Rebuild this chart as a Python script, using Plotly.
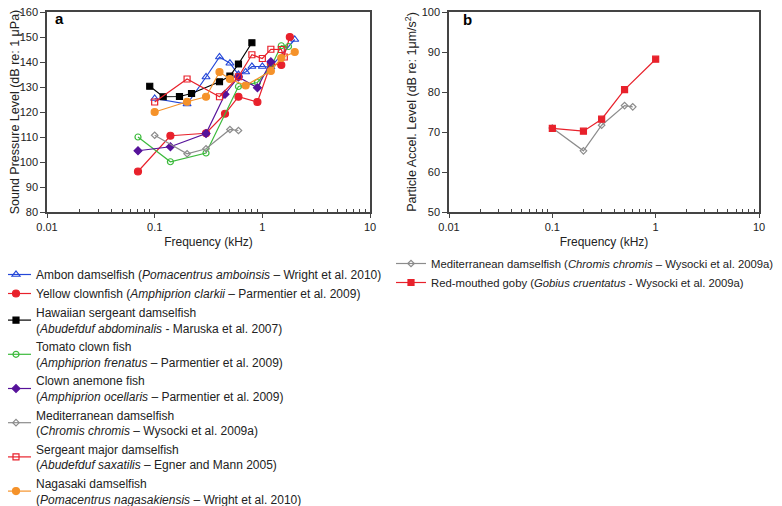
import plotly.graph_objects as go

# ---- panel a: sound pressure audiograms (kHz, dB re 1 uPa) ----
ambon_f = [0.1, 0.2, 0.3, 0.4, 0.5, 0.6, 0.7, 0.8, 1.0, 1.2, 2.0]
ambon_db = [125.4, 123.2, 134, 142, 139.5, 135, 136, 138.2, 138.2, 138, 149]

yellow_f = [0.07, 0.14, 0.3, 0.45, 0.6, 0.9, 1.2, 1.5, 1.8]
yellow_db = [96.2, 110.5, 111.5, 119.3, 126.1, 124, 139.3, 138.8, 150]

hawaii_f = [0.09, 0.12, 0.17, 0.22, 0.4, 0.5, 0.6, 0.8]
hawaii_db = [130.3, 126.1, 126.2, 127.4, 132.1, 134.4, 139.2, 147.7]

tomato_f = [0.07, 0.14, 0.3, 0.6, 0.9, 1.2, 1.5, 1.75]
tomato_db = [110, 100.1, 103.6, 130.2, 131.8, 138, 146.5, 146.2]

anemone_f = [0.07, 0.14, 0.3, 0.45, 0.6, 0.9, 1.2]
anemone_db = [104.5, 106.1, 111.4, 127.1, 134, 129.7, 140.1]

medit_a_f = [0.1, 0.2, 0.3, 0.5, 0.6]
medit_a_db = [110.7, 103.3, 105.3, 113, 112.6]

sergeant_f = [0.1, 0.2, 0.4, 0.6, 0.8, 1.0, 1.2, 1.5, 1.6]
sergeant_db = [124, 133.2, 126.1, 134.1, 142.9, 141.4, 145.1, 145, 142]

nagasaki_f = [0.1, 0.2, 0.3, 0.4, 0.5, 0.7, 1.2, 1.5, 2.0]
nagasaki_db = [120, 124.1, 126.1, 136, 133.2, 130.6, 136.4, 141.6, 144]

# ---- panel b: particle acceleration audiograms (kHz, dB re 1 um/s^2) ----
medit_b_f = [0.1, 0.2, 0.3, 0.5, 0.6]
medit_b_db = [71, 65.3, 71.7, 76.6, 76.3]

goby_f = [0.1, 0.2, 0.3, 0.5, 1.0]
goby_db = [70.9, 70.2, 73.2, 80.6, 88.2]

x_ticks = [0.01, 0.1, 1, 10]
x_tick_labels = ["0.01", "0.1", "1", "10"]

BLUE = "#2447d8"
RED = "#e8212b"
GREEN = "#3cba3c"
PURPLE = "#56129a"
GRAY = "#8c8c8c"
ORANGE = "#f5922a"

W, H = 782, 506
# the page body adds an 8px offset, so work in screen pixels minus that
PAGE_OFF = 8
ML, MR, MT, MB = 39, 31, 4, 302
PW, PH = W - ML - MR, H - MT - MB

FONT = "Liberation Sans, Arial, sans-serif"


def px_to_paper_x(p):
    # p: screen pixel in the target picture
    return (p - PAGE_OFF - ML) / PW


def px_to_paper_y(p):
    return 1 - (p - PAGE_OFF - MT) / PH


fig = go.Figure()


def add_series(f, db, name, color, symbol, size=6, axis="a", legend="legend"):
    fig.add_trace(
        go.Scatter(
            x=f,
            y=db,
            name=name,
            mode="lines+markers",
            line=dict(color=color, width=1.2),
            marker=dict(symbol=symbol, size=size, color=color,
                        line=dict(color=color, width=1.2)),
            xaxis="x" if axis == "a" else "x2",
            yaxis="y" if axis == "a" else "y2",
            legend=legend,
        )
    )


add_series(ambon_f, ambon_db,
           "Ambon damselfish (<i>Pomacentrus amboinsis</i> – Wright et al. 2010)",
           BLUE, "triangle-up-open", 7)
add_series(yellow_f, yellow_db,
           "Yellow clownfish (<i>Amphiprion clarkii</i> – Parmentier et al. 2009)",
           RED, "circle", 7)
add_series(hawaii_f, hawaii_db,
           "Hawaiian sergeant damselfish<br>(<i>Abudefduf abdominalis</i> - Maruska et al. 2007)",
           "black", "square", 6)
add_series(tomato_f, tomato_db,
           "Tomato clown fish<br>(<i>Amphiprion frenatus</i> – Parmentier et al. 2009)",
           GREEN, "circle-open", 6)
add_series(anemone_f, anemone_db,
           "Clown anemone fish<br>(<i>Amphiprion ocellaris</i> – Parmentier et al. 2009)",
           PURPLE, "diamond", 6)
add_series(medit_a_f, medit_a_db,
           "Mediterranean damselfish<br>(<i>Chromis chromis</i> – Wysocki et al. 2009a)",
           GRAY, "diamond-open", 5)
add_series(sergeant_f, sergeant_db,
           "Sergeant major damselfish<br>(<i>Abudefduf saxatilis</i> – Egner and Mann 2005)",
           RED, "square-open", 6)
add_series(nagasaki_f, nagasaki_db,
           "Nagasaki damselfish<br>(<i>Pomacentrus nagasakiensis</i> – Wright et al. 2010)",
           ORANGE, "circle", 7)

add_series(medit_b_f, medit_b_db,
           "Mediterranean damselfish (<i>Chromis chromis</i> – Wysocki et al. 2009a)",
           GRAY, "diamond-open", 5, axis="b", legend="legend2")
add_series(goby_f, goby_db,
           "Red-mouthed goby (<i>Gobius cruentatus</i> - Wysocki et al. 2009a)",
           RED, "square", 6, axis="b", legend="legend2")

tick_font = dict(family=FONT, size=11, color="#222")
xtitle_font = dict(family=FONT, size=12, color="#222")
ytitle_font = dict(family=FONT, size=12.5, color="#222")

xaxis_common = dict(
    type="log",
    range=[-2, 1],
    tickvals=x_ticks,
    ticktext=x_tick_labels,
    ticks="outside",
    ticklen=4,
    tickcolor="#444",
    showline=True,
    linecolor="#444",
    linewidth=1.5,
    mirror=True,
    showgrid=False,
    zeroline=False,
    automargin=False,
    tickfont=tick_font,
    title=dict(text="Frequency (kHz)", font=xtitle_font, standoff=6),
    minor=dict(ticks="inside", ticklen=3, tickcolor="#444",
               tickvals=[m * 10 ** e for e in (-2, -1, 0) for m in range(2, 10)],
               showgrid=False),
)

yaxis_common = dict(
    ticks="outside",
    ticklen=5,
    tickcolor="#444",
    showline=True,
    linecolor="#444",
    linewidth=1.5,
    mirror=True,
    showgrid=False,
    zeroline=False,
    automargin=False,
    ticklabeloverflow="allow",
    tickfont=tick_font,
    dtick=10,
)

fig.update_layout(
    width=W,
    height=H,
    margin=dict(l=ML, r=MR, t=MT, b=MB, autoexpand=False),
    paper_bgcolor="white",
    plot_bgcolor="white",
    font=tick_font,
    showlegend=True,
    xaxis=dict(xaxis_common, domain=[0, px_to_paper_x(370)], anchor="y"),
    yaxis=dict(yaxis_common, domain=[0, 1], range=[80, 160], anchor="x",
               title=dict(text="Sound Pressure Level (dB re: 1 μPa)",
                          font=ytitle_font, standoff=4)),
    xaxis2=dict(xaxis_common, domain=[px_to_paper_x(449), 1], anchor="y2"),
    yaxis2=dict(yaxis_common, domain=[0, 1], range=[50, 100],
                anchor="x2",
                title=dict(text="Particle Accel. Level (dB re: 1μm/s<sup>2</sup>)",
                           font=ytitle_font, standoff=2)),
    legend=dict(
        x=px_to_paper_x(-4), y=px_to_paper_y(260), xanchor="left", yanchor="top",
        font=dict(family=FONT, size=12, color="#222"),
        bgcolor="rgba(0,0,0,0)", tracegroupgap=0, itemwidth=30, maxheight=400,
    ),
    legend2=dict(
        x=px_to_paper_x(391), y=px_to_paper_y(249), xanchor="left", yanchor="top",
        font=dict(family=FONT, size=11.3, color="#222"),
        bgcolor="rgba(0,0,0,0)", tracegroupgap=0, itemwidth=30, maxheight=200,
    ),
    annotations=[
        dict(text="<b>a</b>", x=px_to_paper_x(53), y=px_to_paper_y(18),
             xref="paper", yref="paper", xanchor="left", yanchor="middle",
             showarrow=False, font=dict(family=FONT, size=15, color="black")),
        dict(text="<b>b</b>", x=px_to_paper_x(461), y=px_to_paper_y(19),
             xref="paper", yref="paper", xanchor="left", yanchor="middle",
             showarrow=False, font=dict(family=FONT, size=15, color="black")),
    ],
)

fig.write_html("out.html")
